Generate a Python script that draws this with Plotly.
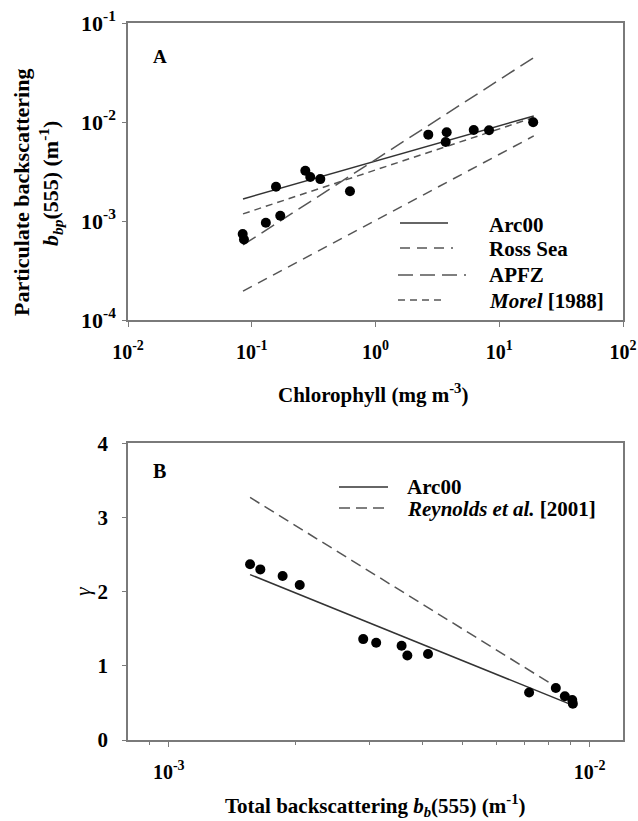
import math
import plotly.graph_objects as go

W, H = 638, 821

# ---- Panel A: particulate backscattering vs chlorophyll ----
chl = [0.0845, 0.0865, 0.130, 0.170, 0.157, 0.271, 0.297, 0.358, 0.622,
       2.67, 3.76, 3.69, 6.22, 8.27, 18.8]
bbp = [7.4e-4, 6.5e-4, 9.6e-4, 1.13e-3, 2.22e-3, 3.22e-3, 2.78e-3, 2.65e-3, 2.0e-3,
       7.45e-3, 7.87e-3, 6.28e-3, 8.30e-3, 8.24e-3, 9.93e-3]

fit_chl = [0.085, 19.0]
arc00_bbp = [1.67e-3, 1.15e-2]
ross_bbp = [1.96e-4, 7.23e-3]
apfz_bbp = [5.73e-4, 4.47e-2]
morel_bbp = [1.18e-3, 1.11e-2]

a_xticks = [1e-2, 1e-1, 1e0, 1e1, 1e2]
a_xlabels = ["10<sup>-2</sup>", "10<sup>-1</sup>", "10<sup>0</sup>", "10<sup>1</sup>", "10<sup>2</sup>"]
a_yticks = [1e-4, 1e-3, 1e-2, 1e-1]
a_ylabels = ["10<sup>-4</sup>", "10<sup>-3</sup>", "10<sup>-2</sup>", "10<sup>-1</sup>"]

# ---- Panel B: spectral slope gamma vs total backscattering ----
bb = [1.56e-3, 1.65e-3, 1.864e-3, 2.047e-3, 2.897e-3, 3.11e-3, 3.574e-3, 3.688e-3,
      4.13e-3, 7.18e-3, 8.31e-3, 8.73e-3, 9.09e-3, 9.12e-3]
gamma = [2.37, 2.30, 2.21, 2.09, 1.36, 1.31, 1.27, 1.14, 1.16, 0.64, 0.70, 0.59, 0.54, 0.49]

arc00_bb = [1.56e-3, 9.1e-3]
arc00_gamma = [2.23, 0.47]
reyn_bb = [1.56e-3, 8.3e-3]
reyn_gamma = [3.27, 0.72]

b_xticks = [1e-3, 1e-2]
b_xlabels = ["10<sup>-3</sup>", "10<sup>-2</sup>"]
b_xminor = [9e-4, 2e-3, 3e-3, 4e-3, 5e-3, 6e-3, 7e-3, 8e-3, 9e-3]
b_yticks = [0, 1, 2, 3, 4]

SERIF = "Liberation Serif, Times New Roman, serif"
FRAME = "#7a7a7a"
LINE_DARK = "#333333"
LINE_GREY = "#555555"

DASH = {
    "solid": "solid",
    "ross": "10px,7px",
    "apfz": "15px,7px",
    "morel": "7px,5px",
    "reyn": "11px,6px",
}


def fx(px):
    return px / W


def fy(py):
    return 1 - py / H


fig = go.Figure()

# Panel A traces
fig.add_trace(go.Scatter(x=fit_chl, y=arc00_bbp, mode="lines",
                         line=dict(color=LINE_DARK, width=1.5, dash=DASH["solid"]),
                         xaxis="x", yaxis="y", name="Arc00"))
fig.add_trace(go.Scatter(x=fit_chl, y=ross_bbp, mode="lines",
                         line=dict(color=LINE_GREY, width=1.5, dash=DASH["ross"]),
                         xaxis="x", yaxis="y", name="Ross Sea"))
fig.add_trace(go.Scatter(x=fit_chl, y=apfz_bbp, mode="lines",
                         line=dict(color=LINE_GREY, width=1.5, dash=DASH["apfz"]),
                         xaxis="x", yaxis="y", name="APFZ"))
fig.add_trace(go.Scatter(x=fit_chl, y=morel_bbp, mode="lines",
                         line=dict(color=LINE_GREY, width=1.5, dash=DASH["morel"]),
                         xaxis="x", yaxis="y", name="Morel"))
fig.add_trace(go.Scatter(x=chl, y=bbp, mode="markers",
                         marker=dict(color="black", size=10),
                         xaxis="x", yaxis="y", name="data A"))

# Panel B traces
fig.add_trace(go.Scatter(x=arc00_bb, y=arc00_gamma, mode="lines",
                         line=dict(color=LINE_DARK, width=1.5, dash=DASH["solid"]),
                         xaxis="x2", yaxis="y2", name="Arc00"))
fig.add_trace(go.Scatter(x=reyn_bb, y=reyn_gamma, mode="lines",
                         line=dict(color=LINE_GREY, width=1.5, dash=DASH["reyn"]),
                         xaxis="x2", yaxis="y2", name="Reynolds"))
fig.add_trace(go.Scatter(x=bb, y=gamma, mode="markers",
                         marker=dict(color="black", size=10),
                         xaxis="x2", yaxis="y2", name="data B"))

tick_font = dict(family=SERIF, size=21, color="black", weight="bold")
axis_common = dict(showline=True, mirror=True, linecolor=FRAME, linewidth=1.5,
                   showgrid=False, zeroline=False, ticks="outside", tickcolor=FRAME,
                   tickwidth=1.2, tickfont=tick_font, tickmode="array",
                   automargin=False)

x_dom = [fx(128), fx(623)]

fig.update_layout(
    template="none",
    width=W, height=H,
    margin=dict(l=0, r=0, t=0, b=0, pad=0),
    paper_bgcolor="white", plot_bgcolor="white",
    showlegend=False,
    xaxis=dict(axis_common, type="log", range=[-2, 2], domain=x_dom, anchor="y",
               tickvals=a_xticks, ticktext=a_xlabels, ticklen=5, ticklabelstandoff=8,
               tickfont=dict(tick_font, size=20)),
    yaxis=dict(axis_common, type="log", range=[-4, -1], domain=[fy(320), fy(23)], anchor="x",
               tickvals=a_yticks, ticktext=a_ylabels, ticklen=4, ticklabelstandoff=2,
               tickfont=dict(tick_font, size=22)),
    xaxis2=dict(axis_common, type="log", range=[math.log10(8e-4), math.log10(1.2e-2)],
                domain=x_dom, anchor="y2",
                tickvals=b_xticks, ticktext=b_xlabels, ticklen=5, ticklabelstandoff=8,
                tickfont=dict(tick_font, size=20),
                minor=dict(tickvals=b_xminor, ticks="outside", ticklen=3,
                           tickcolor=FRAME, tickwidth=1)),
    yaxis2=dict(axis_common, range=[0, 4], domain=[fy(740), fy(443.3)], anchor="x2",
                tickvals=b_yticks, ticktext=[str(v) for v in b_yticks], ticklen=4,
                ticklabelstandoff=10),
)

ann = []
shapes = []


def text(px, py, s, size=21, angle=0, xanchor="center", bold=True):
    ann.append(dict(x=fx(px), y=fy(py), xref="paper", yref="paper",
                    text=f"<b>{s}</b>" if bold else s,
                    showarrow=False, textangle=angle, xanchor=xanchor, yanchor="middle",
                    font=dict(family=SERIF, size=size, color="black",
                              weight="bold" if bold else "normal")))


def sample(x0, x1, py, dash, color):
    shapes.append(dict(type="line", xref="paper", yref="paper",
                       x0=fx(x0), x1=fx(x1), y0=fy(py), y1=fy(py),
                       line=dict(color=color, width=1.5, dash=dash)))


# Panel labels
text(160, 57, "A", size=19)
text(160, 471, "B", size=20)

# Axis titles
text(373, 393, "Chlorophyll (mg m<sup>-3</sup>)", size=21)
text(22, 193, "Particulate backscattering", size=22, angle=-90)
text(50, 184, "<i>b</i><sub><i>bp</i></sub>(555) (m<sup>-1</sup>)", size=22, angle=-90)
text(375, 805, "Total backscattering <i>b</i><sub><i>b</i></sub>(555) (m<sup>-1</sup>)", size=21)
text(82, 591, "<i>γ</i>", size=22, angle=-90, bold=False)

# Panel A legend
sample(400, 448, 223, DASH["solid"], LINE_DARK)
sample(400, 453, 248, DASH["ross"], LINE_GREY)
sample(398, 466, 275, DASH["apfz"], LINE_GREY)
sample(398, 446, 300, DASH["morel"], LINE_GREY)
text(487, 225, "Arc00", xanchor="left")
text(487, 249, "Ross Sea", xanchor="left")
text(487, 275, "APFZ", xanchor="left")
text(487, 301, "<i>Morel</i> [1988]", xanchor="left")

# Panel B legend
sample(339, 388, 487, DASH["solid"], LINE_DARK)
sample(339, 388, 508, DASH["reyn"], LINE_GREY)
text(405, 487, "Arc00", xanchor="left")
text(405, 509, "<i>Reynolds et al.</i> [2001]", xanchor="left")

fig.update_layout(annotations=ann, shapes=shapes)

fig.write_html("out.html")
